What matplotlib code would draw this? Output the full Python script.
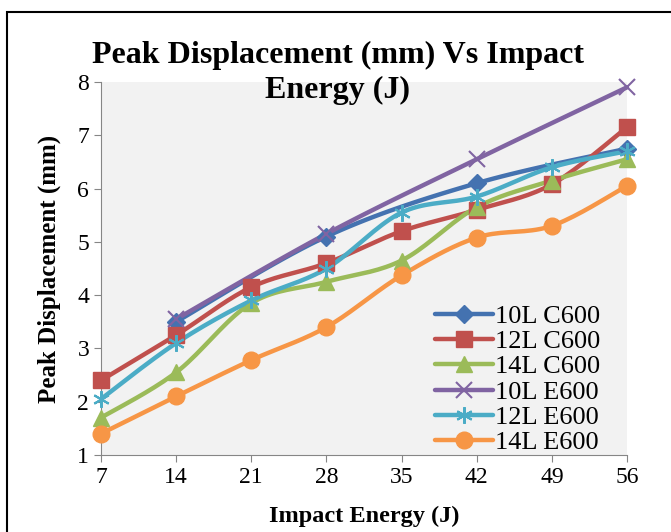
import matplotlib
matplotlib.use("Agg")
import matplotlib.pyplot as plt
import numpy as np
from matplotlib.lines import Line2D
from matplotlib.patches import Rectangle

# data (nan = no point shown)
energy = [7, 14, 21, 28, 35, 42, 49, 56]
series_names = ['10L C600', '12L C600', '14L C600', '10L E600', '12L E600', '14L E600']
c600_10l = [np.nan, 3.50, np.nan, 5.10, np.nan, 6.10, np.nan, 6.75]
c600_12l = [2.40, 3.25, 4.15, 4.60, 5.20, 5.60, 6.08, 7.15]
c600_14l = [1.70, 2.55, 3.85, 4.25, 4.65, 5.65, 6.15, 6.55]
e600_10l = [np.nan, 3.55, np.nan, 5.15, np.nan, 6.55, np.nan, 7.90]
e600_12l = [2.05, 3.10, 3.90, 4.50, 5.55, 5.85, 6.40, 6.70]
e600_14l = [1.40, 2.10, 2.78, 3.40, 4.37, 5.08, 5.30, 6.05]

colors = ['#4472B0', '#C0504D', '#9BBB59', '#8064A2', '#4BACC6', '#F79646']
markers = ['D', 's', '^', 'x', (6, 2, 0), 'o']
msizes = [9, 11, 11, 12, 12, 12]


def smooth(x, y, n=20):
    # Excel-like smoothed line (Bezier through the points)
    x = np.asarray(x, float)
    y = np.asarray(y, float)
    ok = ~np.isnan(y)
    x, y = x[ok], y[ok]
    px = np.concatenate([[x[0]], x, [x[-1]]])
    py = np.concatenate([[y[0]], y, [y[-1]]])
    xs, ys = [], []
    t = np.linspace(0, 1, n)
    for i in range(1, len(px) - 2):
        p0, p1, p2, p3 = [np.array([px[j], py[j]]) for j in (i - 1, i, i + 1, i + 2)]
        c1 = p1 + (p2 - p0) / 6
        c2 = p2 - (p3 - p1) / 6
        b = ((1 - t) ** 3)[:, None] * p1 + (3 * (1 - t) ** 2 * t)[:, None] * c1 \
            + (3 * (1 - t) * t ** 2)[:, None] * c2 + (t ** 3)[:, None] * p2
        xs.extend(b[:, 0])
        ys.extend(b[:, 1])
    return xs, ys


plt.rcParams['font.family'] = ['Liberation Serif', 'DejaVu Serif']

fig = plt.figure(figsize=(6.71, 5.32), dpi=100)
ax = fig.add_axes([0.1505, 0.1447, 0.7839, 0.7012])
ax.set_facecolor('#F2F2F2')

all_series = [c600_10l, c600_12l, c600_14l, e600_10l, e600_12l, e600_14l]
handles = []
for vals, name, col, mk, ms in zip(all_series, series_names, colors, markers, msizes):
    sx, sy = smooth(energy, vals)
    ax.plot(sx, sy, color=col, lw=3.2, solid_capstyle='round', clip_on=False, zorder=3)
    mew = 1.5 if mk == 'x' or isinstance(mk, tuple) else 1
    ax.plot(energy, vals, linestyle='none', marker=mk, ms=ms, color=col,
            mec=col, mew=mew, clip_on=False, zorder=4)
    handles.append(Line2D([], [], color=col, lw=3.2, marker=mk, ms=ms,
                          mec=col, mew=mew, solid_capstyle='round', label=name))

ax.set_xlim(7, 56)
ax.set_ylim(1, 8)
ax.set_xticks(energy)
ax.set_yticks(range(1, 9))
for s in ['top', 'right']:
    ax.spines[s].set_visible(False)
for s in ['left', 'bottom']:
    ax.spines[s].set_color('#868686')
ax.tick_params(colors='#868686', labelcolor='black', labelsize=17, length=5, direction='out')

ax.set_xlabel('Impact Energy (J)', fontsize=17.5, fontweight='bold', labelpad=13)
ax.set_ylabel('Peak Displacement (mm)', fontsize=18, fontweight='bold', labelpad=12)

fig.text(0.503, 0.896, 'Peak Displacement (mm) Vs Impact', ha='center', va='center',
         fontsize=23, fontweight='bold')
fig.text(0.503, 0.830, 'Energy (J)', ha='center', va='center',
         fontsize=23, fontweight='bold')

leg = ax.legend(handles=handles, loc='lower right', bbox_to_anchor=(0.985, -0.048),
                frameon=False, fontsize=19, handlelength=2.2, handletextpad=0.1,
                labelspacing=0.07, borderaxespad=0.3)

# outer frame (cut off at right and bottom edges)
fig.add_artist(Rectangle((7 / 671, -0.05), 1.1, 1.05 - 12 / 532,
                         transform=fig.transFigure, fill=False, ec='black', lw=1.5))

fig.savefig('out.png', dpi=100)
